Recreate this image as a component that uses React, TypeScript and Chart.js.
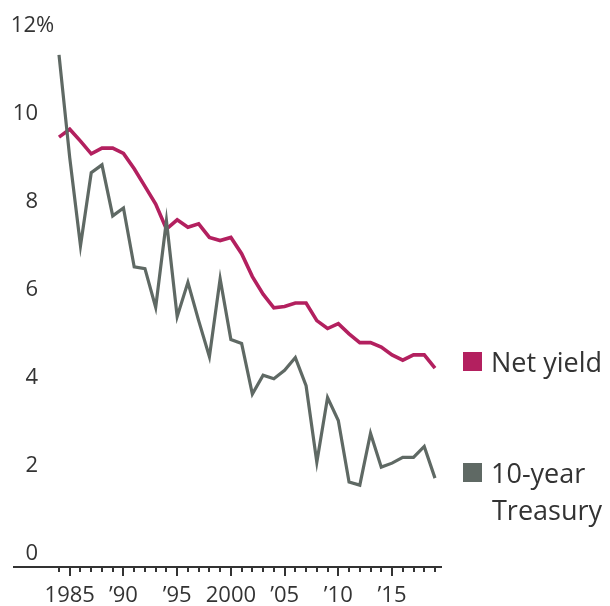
import React, { useEffect, useRef } from "react";
import { Chart, registerables } from "chart.js";

Chart.register(...registerables);

const years = [
  1984, 1985, 1986, 1987, 1988, 1989, 1990, 1991, 1992, 1993, 1994, 1995,
  1996, 1997, 1998, 1999, 2000, 2001, 2002, 2003, 2004, 2005, 2006, 2007,
  2008, 2009, 2010, 2011, 2012, 2013, 2014, 2015, 2016, 2017, 2018, 2019,
];

const netYield = [
  9.77, 9.95, 9.68, 9.39, 9.52, 9.52, 9.4, 9.05, 8.65, 8.25, 7.68, 7.89,
  7.72, 7.8, 7.49, 7.42, 7.49, 7.12, 6.6, 6.2, 5.89, 5.92, 6.0, 6.0,
  5.6, 5.42, 5.53, 5.3, 5.1, 5.1, 5.0, 4.82, 4.7, 4.82, 4.82, 4.52,
];

const treasury = [
  11.64, 9.3, 7.3, 8.96, 9.14, 7.98, 8.16, 6.82, 6.78, 5.9, 7.87, 5.69,
  6.47, 5.6, 4.78, 6.55, 5.17, 5.08, 3.93, 4.36, 4.28, 4.47, 4.76, 4.12,
  2.38, 3.85, 3.33, 1.93, 1.86, 3.04, 2.27, 2.36, 2.49, 2.49, 2.74, 2.02,
];

const yTickValues = [0, 2, 4, 6, 8, 10, 12];
const xLabelYears = [1985, 1990, 1995, 2000, 2005, 2010, 2015];

const seriesNames = ["Net yield", "10-year", "Treasury"];

const MAGENTA = "#b3205f";
const GRAY = "#5f6964";
const TEXT = "#333333";
const AXIS_FONT = "'Open Sans', sans-serif";
const LEGEND_FONT = "'Open Sans', sans-serif";

function xLabel(v: number): string {
  if (!xLabelYears.includes(v)) return "";
  if (v === 1985 || v === 2000) return String(v);
  return "\u2019" + String(v).slice(2);
}

const decorPlugin = {
  id: "decor",
  afterDraw(chart: any) {
    const { ctx, scales } = chart;
    const xs = scales.x;
    const ys = scales.y;
    const base = Math.round(ys.getPixelForValue(0));
    ctx.save();
    // tick marks below the axis line
    ctx.fillStyle = TEXT;
    for (const yr of years) {
      const px = Math.round(xs.getPixelForValue(yr));
      const len = yr % 5 === 0 ? 9 : 5;
      ctx.fillRect(px - 1, base, 2, len);
    }
    // y labels, sitting above their value lines
    ctx.fillStyle = TEXT;
    ctx.font = `22px ${AXIS_FONT}`;
    ctx.textBaseline = "middle";
    for (const v of yTickValues) {
      const py = ys.getPixelForValue(v) - 13;
      ctx.textAlign = "right";
      if (v === 12) {
        ctx.fillText(String(v), 36, py);
        ctx.textAlign = "left";
        ctx.fillText("%", 36, py);
      } else {
        ctx.fillText(String(v), 38, py);
      }
    }
    // legend
    ctx.font = `27px ${LEGEND_FONT}`;
    ctx.textAlign = "left";
    ctx.textBaseline = "alphabetic";
    ctx.fillStyle = MAGENTA;
    ctx.fillRect(463, 352, 19, 19);
    ctx.fillStyle = TEXT;
    ctx.fillText(seriesNames[0], 491, 372);
    ctx.fillStyle = GRAY;
    ctx.fillRect(463, 463, 19, 19);
    ctx.fillStyle = TEXT;
    ctx.fillText(seriesNames[1], 491, 483);
    ctx.fillText(seriesNames[2], 492, 520);
    ctx.restore();
  },
};

export default function App() {
  const canvasRef = useRef<HTMLCanvasElement | null>(null);

  useEffect(() => {
    if (!canvasRef.current) return;
    const chart = new Chart(canvasRef.current, {
      type: "line",
      data: {
        datasets: [
          {
            label: seriesNames[1] + " " + seriesNames[2],
            data: years.map((x, i) => ({ x, y: treasury[i] })),
            borderColor: GRAY,
            borderWidth: 3.2,
            pointRadius: 0,
            tension: 0,
          },
          {
            label: seriesNames[0],
            data: years.map((x, i) => ({ x, y: netYield[i] })),
            borderColor: MAGENTA,
            borderWidth: 3.6,
            pointRadius: 0,
            tension: 0,
          },
        ],
      },
      options: {
        animation: false,
        responsive: true,
        maintainAspectRatio: false,
        layout: { padding: { left: 14, right: 169, top: 39, bottom: 0 } },
        plugins: {
          legend: { display: false },
          tooltip: { enabled: false },
        },
        scales: {
          x: {
            type: "linear",
            min: 1979.81,
            max: 2019.56,
            grid: { display: false, drawTicks: false },
            border: { display: true, color: TEXT, width: 2 },
            afterBuildTicks: (scale: any) => {
              scale.ticks = years.map((v) => ({ value: v }));
            },
            afterFit: (scale: any) => {
              scale.height = 39;
            },
            ticks: {
              autoSkip: false,
              maxRotation: 0,
              minRotation: 0,
              padding: 19,
              color: TEXT,
              font: { family: AXIS_FONT, size: 22, lineHeight: "20px" },
              callback: (v: any) => xLabel(Number(v)),
            },
          },
          y: {
            display: false,
            min: 0,
            max: 12,
          },
        },
      },
      plugins: [decorPlugin],
    });
    return () => chart.destroy();
  }, []);

  return (
    <div
      style={{
        position: "fixed",
        left: 0,
        top: 0,
        width: 610,
        height: 606,
        background: "#ffffff",
      }}
    >
      <canvas ref={canvasRef} />
    </div>
  );
}
